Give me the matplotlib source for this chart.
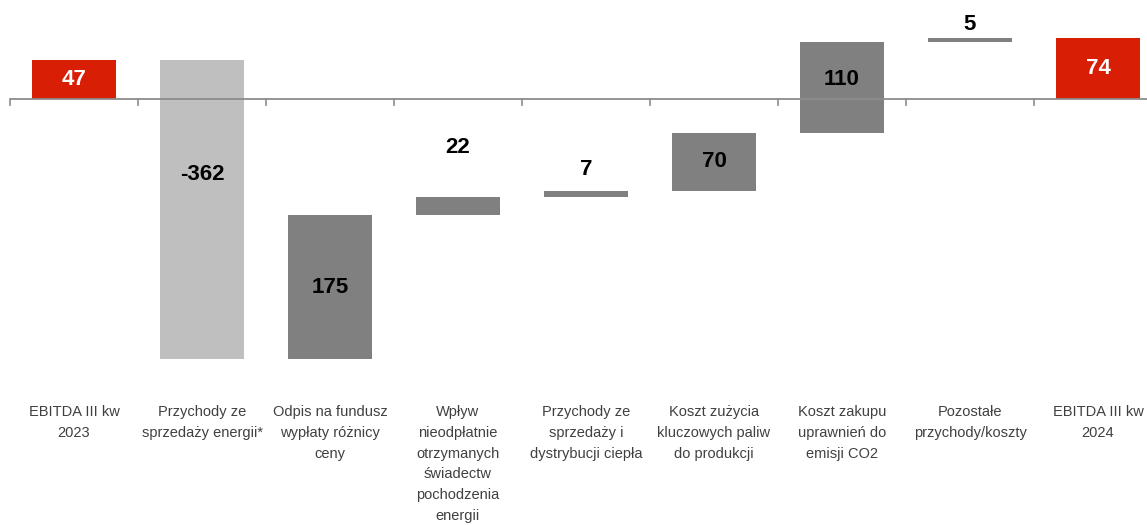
import numpy as np
import matplotlib
matplotlib.use('Agg')
from matplotlib import pyplot as plt
import matplotlib.transforms as mtransforms

plt.rcParams['font.family'] = ['Liberation Sans Narrow', 'Liberation Sans', 'DejaVu Sans']

categories = ['EBITDA III kw\n2023', 'Przychody ze\nsprzedaży energii*', 'Odpis na fundusz\nwypłaty różnicy\nceny',
              'Wpływ\nnieodpłatnie\notrzymanych\nświadectw\npochodzenia\nenergii', 'Przychody ze\nsprzedaży i\ndystrybucji ciepła',
              'Koszt zużycia\nkluczowych paliw\ndo produkcji', 'Koszt zakupu\nuprawnień do\nemisji CO2',
              'Pozostałe\nprzychody/koszty', 'EBITDA III kw\n2024']
values = [47, -362, 175, 22, 7, 70, 110, 5, 74]
labels = ['47', '-362', '175', '22', '7', '70', '110', '5', '74']
kinds = ['total', 'neg', 'pos', 'pos', 'pos', 'pos', 'pos', 'pos', 'total']

colors = {'total': '#D81E05', 'neg': '#BFBFBF', 'pos': '#808080'}

# waterfall bottoms / heights
bottoms = []
heights = []
running = 0
for v, k in zip(values, kinds):
    if k == 'total':
        bottoms.append(0)
        heights.append(v)
        running = v
    else:
        bottoms.append(running if v > 0 else running + v)
        heights.append(abs(v))
        running += v

W, H = 1147, 525
px = 0.826  # pixels per unit
fig = plt.figure(figsize=(W / 100, H / 100), dpi=100)
ax = fig.add_axes([10 / W, 145 / H, 1137 / W, 380 / H])
x = np.arange(len(values))
ax.set_xlim(-0.5, -0.5 + 1137 / 128)
ax.set_ylim(-340, 120)

ax.bar(x, heights, bottom=bottoms, width=0.656,
       color=[colors[k] for k in kinds], zorder=2)

# zero line with boundary ticks
ax.axhline(0, color='#8C8C8C', lw=1.3, zorder=3)
tick_len = 6 / px
for b in np.arange(-0.5, 8.5, 1.0):
    ax.plot([b, b], [0, -tick_len], color='#8C8C8C', lw=1.2, zorder=3, clip_on=False)

# value labels: small bars get the number above, the rest inside
above_off = {3: 49, 4: 21, 7: 13}
inside_shift = {1: 35, 6: 8}
for i, (b, h, lab, k) in enumerate(zip(bottoms, heights, labels, kinds)):
    if i in above_off:
        y = b + h + above_off[i] / px
        col = 'black'
    else:
        y = b + h / 2 + inside_shift.get(i, 0) / px
        col = 'white' if k == 'total' else 'black'
    ax.text(i, y, lab, ha='center', va='center', fontsize=16, fontweight='bold', color=col, zorder=4)

# category labels under the chart
trans = mtransforms.blended_transform_factory(ax.transData, fig.transFigure)
for i, c in enumerate(categories):
    ax.text(i, 1 - 405 / H, c, transform=trans, ha='center', va='top', fontsize=10.5,
            color='#404040', linespacing=1.62)

for s in ax.spines.values():
    s.set_visible(False)
ax.set_xticks([])
ax.set_yticks([])

fig.savefig('out.png', dpi=100)
